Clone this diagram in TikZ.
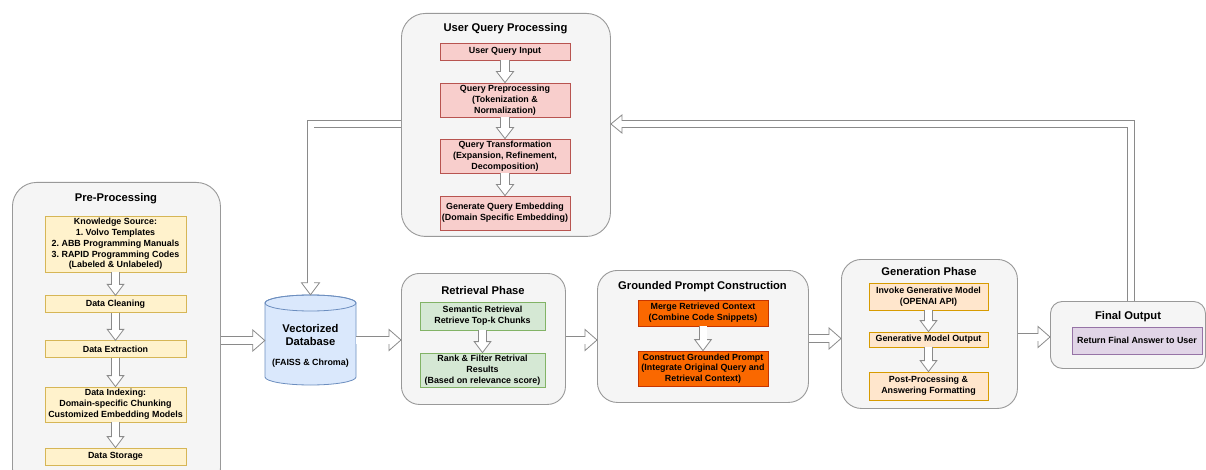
\documentclass[tikz,border=0pt]{standalone}
\usepackage{fontspec}
\setmainfont{Liberation Sans}
\usetikzlibrary{calc}
\frenchspacing
\definecolor{cfill}{HTML}{F5F5F5}
\definecolor{cline}{HTML}{999999}
\definecolor{arrline}{HTML}{8A8A8A}
\definecolor{yfill}{HTML}{FFF2CC}\definecolor{yline}{HTML}{D6B656}
\definecolor{rfill}{HTML}{F8CECC}\definecolor{rline}{HTML}{B85450}
\definecolor{gfill}{HTML}{D5E8D4}\definecolor{gline}{HTML}{82B366}
\definecolor{ofill}{HTML}{FA6800}\definecolor{oline}{HTML}{C73500}
\definecolor{lofill}{HTML}{FFE6CC}\definecolor{loline}{HTML}{D79B00}
\definecolor{pfill}{HTML}{E1D5E7}\definecolor{pline}{HTML}{9673A6}
\definecolor{bfill}{HTML}{DAE8FC}\definecolor{bline}{HTML}{6C8EBF}
\newcommand{\flexarrow}[6]{%
  \draw[draw=arrline, line width=#4pt+1.6pt, line join=miter, shorten >=#6pt] #1;
  \begin{scope}[shift={#2}, rotate=#3]
    \filldraw[fill=white, draw=arrline, line width=0.8pt, line join=miter] (0,0) -- (-#6,#5) -- (-#6,-#5) -- cycle;
  \end{scope}
  \draw[draw=white, line width=#4pt, line join=miter, shorten >=#6pt-1.2pt] #1;
}
\begin{document}
\begin{tikzpicture}[x=1pt,y=-1pt,
  container/.style={draw=cline, fill=cfill, line width=0.9pt, rectangle, inner sep=0pt, anchor=north west},
  ttl/.style={font=\fontsize{11.2}{13.5}\selectfont\bfseries, align=center, inner sep=0pt},
  inner/.style={rectangle, line width=0.8pt, font=\fontsize{8.9}{10.8}\selectfont\bfseries, align=center, inner sep=0pt, text=black},
  ybox/.style={inner, draw=yline, fill=yfill, minimum width=141pt},
  rbox/.style={inner, draw=rline, fill=rfill, minimum width=130pt},
  gbox/.style={inner, draw=gline, fill=gfill, minimum width=125pt},
  obox/.style={inner, draw=oline, fill=ofill, minimum width=130pt},
  lobox/.style={inner, draw=loline, fill=lofill, minimum width=119pt},
  pbox/.style={inner, draw=pline, fill=pfill, minimum width=130pt},
]
\clip (0,0) rectangle (1206,470);
\fill[white] (0,0) rectangle (1206,470);

% containers
\node[container, rounded corners=24pt, minimum width=208pt, minimum height=310pt] (pre) at (12,182) {};
\node[container, rounded corners=24pt, minimum width=209pt, minimum height=223pt] (uq) at (401,13) {};
\node[container, rounded corners=18pt, minimum width=164pt, minimum height=131pt] (ret) at (401,273) {};
\node[container, rounded corners=20pt, minimum width=211pt, minimum height=132pt] (gro) at (597,270) {};
\node[container, rounded corners=20pt, minimum width=176pt, minimum height=149pt] (gen) at (841,259) {};
\node[container, rounded corners=12pt, minimum width=155pt, minimum height=67pt] (fin) at (1050,301) {};

% titles
\node[ttl] (pret) at (116,199) {Pre-Processing};
\node[ttl] (uqt) at (505.5,29) {User Query Processing};
\node[ttl] (rett) at (483,290) {Retrieval Phase};
\node[ttl] (grot) at (702.5,287) {Grounded Prompt Construction};
\node[ttl] (gent) at (929,271) {Generation Phase};
\node[ttl] (fint) at (1128,317) {Final Output};

% pre-processing boxes
\node[ybox, minimum height=56pt] (ks) at (115.5,244) {Knowledge Source:\\1. Volvo Templates\\2. ABB Programming Manuals\\3. RAPID Programming Codes\\(Labeled \& Unlabeled)};
\node[ybox, minimum height=16.5pt] (dc) at (115.5,304) {Data Cleaning};
\node[ybox, minimum height=16.5pt] (de) at (115.5,349) {Data Extraction};
\node[ybox, minimum height=35pt] (di) at (115.5,404.5) {Data Indexing:\\Domain-specific Chunking\\Customized Embedding Models};
\node[ybox, minimum height=17pt] (ds) at (115.5,456.5) {Data Storage};

% user query boxes
\node[rbox, minimum height=17pt] (uqi) at (505,51.5) {User Query Input};
\node[rbox, minimum height=34pt] (qp) at (505,100) {Query Preprocessing\\(Tokenization \&\\Normalization)};
\node[rbox, minimum height=34pt] (qt) at (505,156) {Query Transformation\\(Expansion, Refinement,\\Decomposition)};
\node[rbox, minimum height=34pt] (gqe) at (505,213) {Generate Query Embedding\\(Domain Specific Embedding)};

% database cylinder
\filldraw[fill=bfill, draw=bline, line width=0.8pt] (265,303) -- (265,377)
  arc[start angle=180, end angle=0, x radius=45.5, y radius=8] -- (356,303)
  arc[start angle=0, end angle=-180, x radius=45.5, y radius=8] -- cycle;
\draw[draw=bline, line width=0.8pt] (310.5,303) ellipse [x radius=45.5, y radius=8];
\node[inner sep=0pt, minimum width=91pt, minimum height=90pt] (cyl) at (310.5,340) {};
\node[ttl] (cylt) at (310.5,335) {Vectorized\\Database};
\node[inner] (cyls) at (310.5,363) {(FAISS \& Chroma)};

% retrieval boxes
\node[gbox, minimum height=28pt] (sr) at (482.5,316) {Semantic Retrieval\\Retrieve Top-k Chunks};
\node[gbox, minimum height=34pt] (rf) at (482.5,370) {Rank \& Filter Retrival\\Results\\(Based on relevance score)};

% grounded boxes
\node[obox, minimum height=26pt] (mr) at (703,313) {Merge Retrieved Context\\(Combine Code Snippets)};
\node[obox, minimum height=35pt] (cg) at (703,368.5) {Construct Grounded Prompt\\(Integrate Original Query and\\Retrieval Context)};

% generation boxes
\node[lobox, minimum height=27pt] (ig) at (928.5,296.5) {Invoke Generative Model\\(OPENAI API)};
\node[lobox, minimum height=15pt] (go) at (928.5,339.5) {Generative Model Output};
\node[lobox, minimum height=28pt] (pp) at (928.5,386) {Post-Processing \&\\Answering Formatting};

% final box
\node[pbox, minimum height=27pt] (ret2) at (1137,340.5) {Return Final Answer to User};

% inner arrows
\flexarrow{(ks.south) -- (dc.north)}{(dc.north)}{-90}{7}{8.3}{11}
\flexarrow{(dc.south) -- (de.north)}{(de.north)}{-90}{7}{8.3}{11}
\flexarrow{(de.south) -- (di.north)}{(di.north)}{-90}{7}{8.3}{11}
\flexarrow{(di.south) -- (ds.north)}{(ds.north)}{-90}{7}{8.3}{11}
\flexarrow{(uqi.south) -- (qp.north)}{(qp.north)}{-90}{8}{8.5}{11}
\flexarrow{(qp.south) -- (qt.north)}{(qt.north)}{-90}{8}{8.5}{11}
\flexarrow{(qt.south) -- (gqe.north)}{(gqe.north)}{-90}{8}{8.5}{11}
\flexarrow{(sr.south) -- (rf.north)}{(rf.north)}{-90}{7}{8.3}{11}
\flexarrow{(mr.south) -- (cg.north)}{(cg.north)}{-90}{7}{8.3}{11}
\flexarrow{(ig.south) -- (go.north)}{(go.north)}{-90}{7}{8.3}{11}
\flexarrow{(go.south) -- (pp.north)}{(pp.north)}{-90}{7}{8.3}{11}

% connectors between phases
\coordinate (y1) at (0,340.5);
\coordinate (y2) at (0,340);
\coordinate (y3) at (0,338.5);
\coordinate (y4) at (0,337);
\coordinate (yq) at (0,124);
\coordinate (fbx) at (1131,0);
\flexarrow{(pre.east |- y1) -- (cyl.west |- y1)}{(cyl.west |- y1)}{0}{7}{10.5}{12}
\flexarrow{(cyl.east |- y2) -- (ret.west |- y2)}{(ret.west |- y2)}{0}{7}{10.5}{12}
\flexarrow{(ret.east |- y2) -- (gro.west |- y2)}{(gro.west |- y2)}{0}{7}{10.5}{12}
\flexarrow{(gro.east |- y3) -- (gen.west |- y3)}{(gen.west |- y3)}{0}{7}{10.5}{12}
\flexarrow{(gen.east |- y4) -- (fin.west |- y4)}{(fin.west |- y4)}{0}{7}{10.5}{12}
\flexarrow{(fin.north -| fbx) -- (fbx |- yq) -- (uq.east |- yq)}{(uq.east |- yq)}{180}{6}{9}{11}
\flexarrow{(uq.west |- yq) -- (cyl.north |- yq) -- (cyl.north)}{(cyl.north)}{-90}{6}{9}{12}
\end{tikzpicture}
\end{document}
